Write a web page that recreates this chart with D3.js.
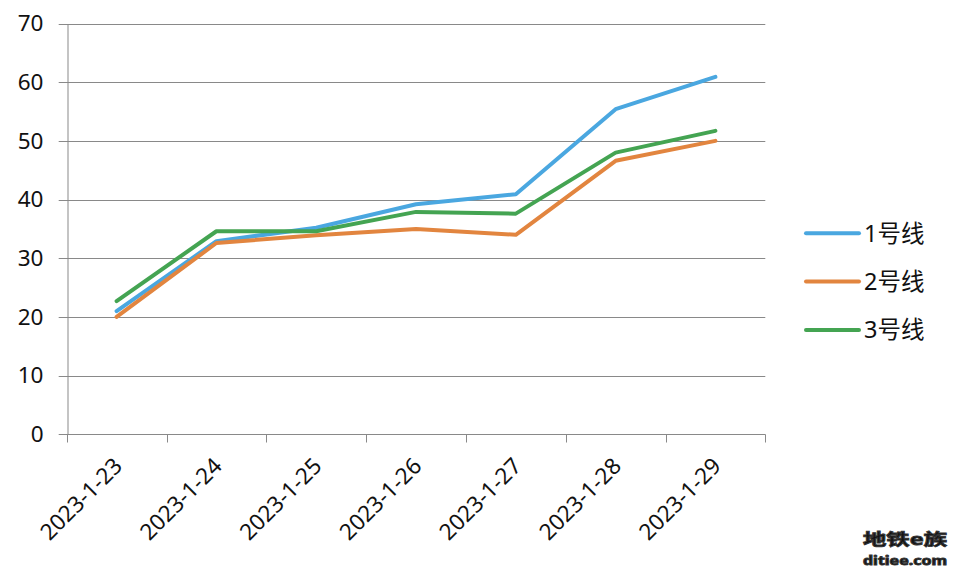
<!DOCTYPE html>
<html>
<head>
<meta charset="utf-8">
<script src="https://cdn.jsdelivr.net/npm/d3@7"></script>
<style>
  body { margin: 0; background: #fff; }
  text { font-family: "Noto Sans", "Noto Sans CJK SC", sans-serif; fill: #111; }
</style>
</head>
<body>
<div id="chart"></div>
<script>
// 日付
const dates = ["2023-1-23", "2023-1-24", "2023-1-25", "2023-1-26", "2023-1-27", "2023-1-28", "2023-1-29"];
const line1 = [21.0, 32.9, 35.2, 39.2, 40.9, 55.4, 60.9];
const line2 = [20.0, 32.6, 33.9, 35.0, 34.0, 46.6, 50.0];
const line3 = [22.7, 34.6, 34.6, 37.9, 37.6, 48.0, 51.7];
const seriesNames = ["1号线", "2号线", "3号线"];
const yTicks = [0, 10, 20, 30, 40, 50, 60, 70];

const series = [
  { name: seriesNames[0], values: line1, color: "#4aa7e0" },
  { name: seriesNames[1], values: line2, color: "#e2853f" },
  { name: seriesNames[2], values: line3, color: "#44a452" },
];

const width = 953, height = 568;
const mLeft = 66.7, mRight = 765.3, mTop = 23.5, mBottom = 434.3;

const svg = d3.select("#chart").append("svg")
  .attr("width", width)
  .attr("height", height);

const x = d3.scaleBand().domain(dates).range([mLeft, mRight]);
const y = d3.scaleLinear().domain([0, 70]).range([mBottom, mTop]);

// grid
svg.append("g")
  .selectAll("line")
  .data(yTicks)
  .enter()
  .append("line")
  .attr("x1", mLeft - 8).attr("x2", mRight)
  .attr("y1", d => Math.round(y(d)) + 0.5).attr("y2", d => Math.round(y(d)) + 0.5)
  .attr("stroke", "#898989").attr("stroke-width", 1);

// y axis
const yAxis = svg.append("g")
  .attr("transform", "translate(" + (Math.round(mLeft) + 0.5) + ",0)")
  .call(d3.axisLeft(y).tickValues(yTicks).tickSize(0).tickPadding(24));
yAxis.select(".domain").attr("stroke", "#898989");
yAxis.selectAll("text").attr("font-size", 22.5).style("font-family", "'Noto Sans', sans-serif").attr("fill", "#111");

// x axis
const xAxis = svg.append("g")
  .attr("transform", "translate(0," + (Math.round(mBottom) + 0.5) + ")");
xAxis.append("line")
  .attr("x1", mLeft).attr("x2", mRight)
  .attr("stroke", "#898989");
const edges = dates.map(d => x(d)).concat([mRight]);
xAxis.selectAll(".tk")
  .data(edges)
  .enter()
  .append("line")
  .attr("class", "tk")
  .attr("x1", d => Math.round(d) + 0.5).attr("x2", d => Math.round(d) + 0.5)
  .attr("y1", 0).attr("y2", 8)
  .attr("stroke", "#898989");
xAxis.selectAll(".lbl")
  .data(dates)
  .enter()
  .append("text")
  .attr("class", "lbl")
  .attr("text-anchor", "end")
  .attr("font-size", 22.5)
  .attr("transform", d => "translate(" + (x(d) + x.bandwidth() / 2 + 7) + ",33) rotate(-45)")
  .text(d => d);

// lines
const line = d3.line()
  .x((d, i) => x(dates[i]) + x.bandwidth() / 2)
  .y(d => y(d));

svg.append("g")
  .selectAll("path")
  .data(series)
  .enter()
  .append("path")
  .attr("d", d => line(d.values))
  .attr("fill", "none")
  .attr("stroke", d => d.color)
  .attr("stroke-width", 4)
  .attr("stroke-linejoin", "round")
  .attr("stroke-linecap", "round");

// legend
const legend = svg.append("g")
  .selectAll("g")
  .data(series)
  .enter()
  .append("g")
  .attr("transform", (d, i) => "translate(806," + (233.3 + i * 48.3) + ")");
legend.append("line")
  .attr("x1", 0).attr("x2", 53)
  .attr("stroke", d => d.color)
  .attr("stroke-width", 4)
  .attr("stroke-linecap", "round");
legend.append("text")
  .attr("x", 58).attr("dy", "0.35em")
  .attr("font-size", 23.5)
  .text(d => d.name);

// watermark
const wm = svg.append("g").attr("transform", "translate(905,0)");
wm.append("text")
  .attr("text-anchor", "middle")
  .attr("y", 545)
  .attr("font-size", 16)
  .attr("font-weight", "bold")
  .attr("textLength", 84)
  .attr("lengthAdjust", "spacingAndGlyphs")
  .attr("fill", "#fff").attr("stroke", "#333").attr("stroke-width", 0.9)
  .text("地铁e族");
wm.append("text")
  .attr("text-anchor", "middle")
  .attr("y", 565)
  .attr("font-size", 12)
  .attr("font-weight", "bold")
  .attr("textLength", 84)
  .attr("lengthAdjust", "spacingAndGlyphs")
  .attr("fill", "#fff").attr("stroke", "#333").attr("stroke-width", 0.9)
  .text("ditiee.com");
</script>
</body>
</html>
